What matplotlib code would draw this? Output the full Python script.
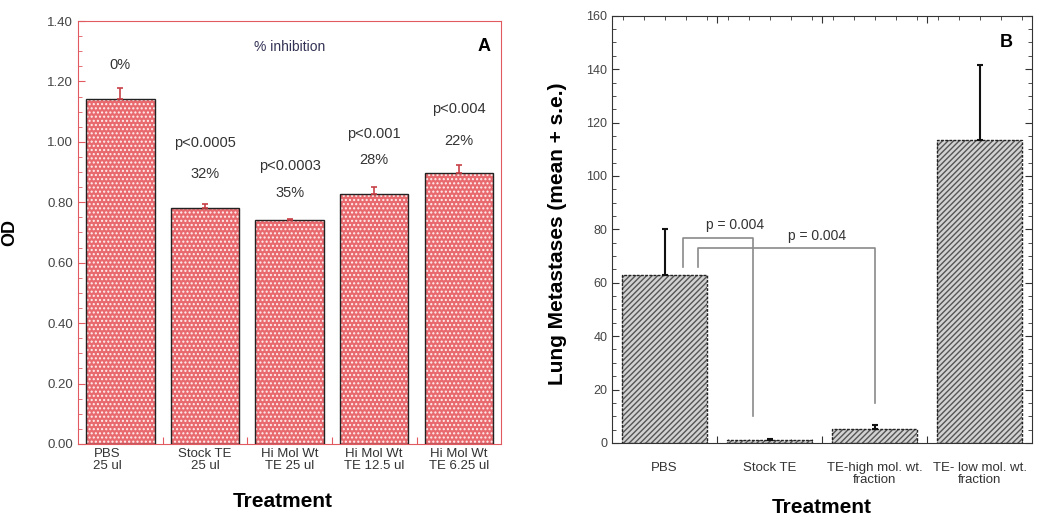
import matplotlib
matplotlib.use("Agg")
import matplotlib.pyplot as plt
from matplotlib.ticker import MultipleLocator, FixedLocator

plt.rcParams['font.family'] = ['Liberation Sans', 'DejaVu Sans']

# ---- Panel A data ----
a_labels = ["PBS\n25 ul", "Stock TE\n25 ul", "Hi Mol Wt\nTE 25 ul", "Hi Mol Wt\nTE 12.5 ul", "Hi Mol Wt\nTE 6.25 ul"]
a_values = [1.143, 0.781, 0.741, 0.829, 0.898]
a_errors = [0.036, 0.014, 0.004, 0.020, 0.027]
a_pvals = ["", "p<0.0005", "p<0.0003", "p<0.001", "p<0.004"]
a_inhib = ["0%", "32%", "35%", "28%", "22%"]
a_pval_y = [None, 0.997, 0.92, 1.027, 1.109]
a_inhib_y = [1.255, 0.894, 0.832, 0.94, 1.004]

# ---- Panel B data ----
b_labels = ["PBS", "Stock TE", "TE-high mol. wt.\nfraction", "TE- low mol. wt.\nfraction"]
b_values = [63, 1, 5.2, 113.5]
b_errors = [17, 0.6, 1.5, 28]

fig = plt.figure(figsize=(10.5, 5.26), dpi=100)

# ================= Panel A =================
red = '#e05a60'
axA = fig.add_axes([0.0743, 0.156, 0.403, 0.804])
xa = list(range(len(a_values)))
axA.bar(xa, a_values, width=0.81, color='#e8696e', edgecolor='#fff0f0',
        hatch='....', linewidth=0, zorder=2)
axA.bar(xa, a_values, width=0.81, color='none', edgecolor='#222222',
        linewidth=1.0, zorder=3)
axA.errorbar(xa, a_values, yerr=[[0]*len(a_values), a_errors], fmt='none',
             ecolor='#c84048', elinewidth=1.2, capsize=2.5, capthick=1.2, zorder=4)
axA.set_xlim(-0.5, 4.5)
axA.set_ylim(0, 1.40)
axA.yaxis.set_major_locator(MultipleLocator(0.2))
axA.yaxis.set_minor_locator(MultipleLocator(0.05))
axA.set_yticks(axA.get_yticks())
axA.set_yticklabels([f"{v:.2f}" for v in axA.get_yticks()])
axA.set_ylim(0, 1.40)
axA.xaxis.set_major_locator(FixedLocator([0.5, 1.5, 2.5, 3.5]))
axA.xaxis.set_minor_locator(MultipleLocator(0.2))
axA.set_xticklabels([])
for i, lab in enumerate(a_labels):
    axA.text(i - 0.15 if i == 0 else i, -0.012, lab, ha='center', va='top',
             fontsize=9.5, color='#333333', linespacing=1.1)
for s in axA.spines.values():
    s.set_color(red)
axA.tick_params(axis='both', which='both', direction='in', color=red,
                labelcolor='#444444', labelsize=9.5)
axA.tick_params(which='major', length=5)
axA.tick_params(which='minor', length=3)
axA.set_ylabel("OD", fontsize=13, fontweight='bold')
axA.yaxis.set_label_coords(-0.141, 0.5)
axA.set_xlabel("Treatment", fontsize=15, fontweight='bold')
axA.xaxis.set_label_coords(0.485, -0.113)
axA.text(2, 1.315, "% inhibition", ha='center', va='center', fontsize=10, color='#333355')
axA.text(4.3, 1.315, "A", ha='center', va='center', fontsize=13, fontweight='bold')
for i in range(len(a_values)):
    if a_pvals[i]:
        axA.text(i, a_pval_y[i], a_pvals[i], ha='center', va='center', fontsize=10.5, color='#333333')
    axA.text(i, a_inhib_y[i], a_inhib[i], ha='center', va='center', fontsize=10.5, color='#333333')

# ================= Panel B =================
axB = fig.add_axes([0.583, 0.158, 0.40, 0.812])
xb = list(range(len(b_values)))
axB.bar(xb, b_values, width=0.81, color='#d2d2d2', edgecolor='#555555',
        hatch='//////', linewidth=0, zorder=2)
axB.bar(xb, b_values, width=0.81, color='none', edgecolor='#222222',
        linewidth=1.0, linestyle=(0, (2, 1)), zorder=3)
axB.errorbar(xb, b_values, yerr=[[0]*len(b_values), b_errors], fmt='none',
             ecolor='#111111', elinewidth=1.5, capsize=2.5, capthick=1.5, zorder=4)
axB.set_xlim(-0.5, 3.5)
axB.set_ylim(0, 160)
axB.yaxis.set_major_locator(MultipleLocator(20))
axB.yaxis.set_minor_locator(MultipleLocator(5))
axB.xaxis.set_major_locator(FixedLocator([0.5, 1.5, 2.5]))
axB.xaxis.set_minor_locator(MultipleLocator(0.2))
axB.set_xticklabels([])
for i, lab in enumerate(b_labels):
    axB.text(i, -7.0, lab, ha='center', va='top', fontsize=9.5, color='#333333',
             linespacing=1.05)
for s in axB.spines.values():
    s.set_color('#333333')
axB.tick_params(axis='both', which='both', direction='in', top=True, right=True,
                color='#333333', labelcolor='#444444', labelsize=9)
axB.tick_params(which='major', length=5)
axB.tick_params(which='minor', length=3)
axB.set_ylabel("Lung Metastases (mean + s.e.)", fontsize=15, fontweight='bold')
axB.yaxis.set_label_coords(-0.108, 0.49)
axB.set_xlabel("Treatment", fontsize=15, fontweight='bold')
axB.xaxis.set_label_coords(0.5, -0.129)
axB.text(3.25, 150, "B", ha='center', va='center', fontsize=13, fontweight='bold')

# significance brackets
gray = '#8a8a8a'
axB.plot([0.176, 0.176, 0.843, 0.843], [66, 76.8, 76.8, 10], color=gray, lw=1.2, zorder=5)
axB.plot([0.319, 0.319, 2.005, 2.005], [66, 73, 73, 15], color=gray, lw=1.2, zorder=5)
axB.text(0.67, 81.5, "p = 0.004", ha='center', va='center', fontsize=10, color='#333333')
axB.text(1.45, 77.5, "p = 0.004", ha='center', va='center', fontsize=10, color='#333333')

fig.savefig("out.png", dpi=100)
